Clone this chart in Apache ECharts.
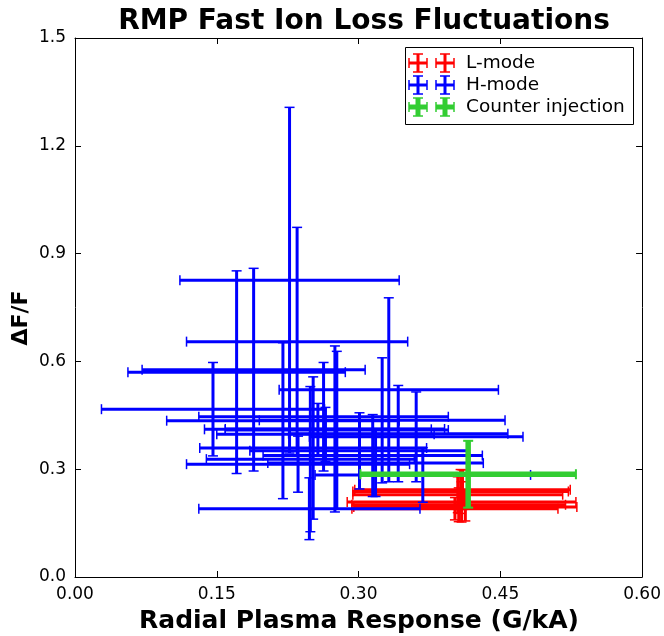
<!DOCTYPE html>
<html><head><meta charset="utf-8">
<script src="https://cdn.jsdelivr.net/npm/echarts@6/dist/echarts.min.js"></script>
<style>html,body{margin:0;padding:0;background:#fff}#c{width:664px;height:636px}</style>
</head><body><div id="c"></div>
<script>
// Axis ticks
const xTicks = [0.00, 0.15, 0.30, 0.45, 0.60];
const yTicks = [0.0, 0.3, 0.6, 0.9, 1.2, 1.5];

// L-mode (red)
const lX    = [0.408, 0.405, 0.410, 0.409, 0.406, 0.413, 0.402];
const lY    = [0.238, 0.229, 0.243, 0.209, 0.201, 0.195, 0.190];
const lXErr = [0.114, 0.111, 0.114, 0.121, 0.113, 0.118, 0.109];
const lYErr = [0.061, 0.050, 0.055, 0.056, 0.047, 0.039, 0.031];

// H-mode (blue)
const hX    = [0.227, 0.235, 0.171, 0.189, 0.332, 0.146, 0.220, 0.275, 0.277, 0.263, 0.325, 0.361, 0.265, 0.257, 0.315, 0.318, 0.368, 0.248, 0.252, 0.236, 0.249, 0.301, 0.342];
const hY    = [0.826, 0.655, 0.570, 0.577, 0.521, 0.467, 0.435, 0.412, 0.409, 0.446, 0.436, 0.390, 0.397, 0.411, 0.338, 0.317, 0.284, 0.190, 0.359, 0.314, 0.328, 0.351, 0.399];
const hXErr = [0.116, 0.117, 0.115, 0.118, 0.116, 0.118, 0.123, 0.116, 0.118, 0.132, 0.130, 0.113, 0.115, 0.120, 0.116, 0.114, 0.114, 0.117, 0.120, 0.118, 0.110, 0.116, 0.116];
const hYErr = [0.481, 0.318, 0.282, 0.282, 0.256, 0.130, 0.217, 0.231, 0.219, 0.151, 0.174, 0.125, 0.075, 0.072, 0.114, 0.093, 0.076, 0.086, 0.198, 0.078, 0.202, 0.106, 0.134];

// Counter injection (green)
const cX    = [0.416];
const cY    = [0.286];
const cXErr = [0.114];
const cYErr = [0.093];

const FONT = 'DejaVu Sans';
const chart = echarts.init(document.getElementById('c'), null, {renderer: 'canvas'});

function rows(xs, ys, xe, ye) { return xs.map((v, i) => [v, ys[i], xe[i], ye[i]]); }

function makeRender(color, lw, capW, capLw) {
  return function (params, api) {
    const x = api.value(0), y = api.value(1), xe = api.value(2), ye = api.value(3);
    const l = api.coord([x - xe, y]), r = api.coord([x + xe, y]);
    const t = api.coord([x, y + ye]), b = api.coord([x, y - ye]);
    const st = {stroke: color, lineWidth: lw};
    const cs = {stroke: color, lineWidth: capLw};
    const h = capW / 2;
    return {type: 'group', children: [
      {type: 'line', shape: {x1: l[0], y1: l[1], x2: r[0], y2: r[1]}, style: st},
      {type: 'line', shape: {x1: t[0], y1: t[1], x2: b[0], y2: b[1]}, style: st},
      {type: 'line', shape: {x1: l[0], y1: l[1] - h, x2: l[0], y2: l[1] + h}, style: cs},
      {type: 'line', shape: {x1: r[0], y1: r[1] - h, x2: r[0], y2: r[1] + h}, style: cs},
      {type: 'line', shape: {x1: t[0] - h, y1: t[1], x2: t[0] + h, y2: t[1]}, style: cs},
      {type: 'line', shape: {x1: b[0] - h, y1: b[1], x2: b[0] + h, y2: b[1]}, style: cs}
    ]};
  };
}

const axisCommon = {
  axisLine: {show: true, onZero: false, lineStyle: {color: '#000', width: 1}},
  axisTick: {show: true, inside: true, length: 6, lineStyle: {color: '#000', width: 1}},
  splitLine: {show: false}
};

function legendCross(cx, cy, color, lw) {
  return [
    {type: 'line', shape: {x1: cx - 9, y1: cy, x2: cx + 9, y2: cy}, style: {stroke: color, lineWidth: lw}},
    {type: 'line', shape: {x1: cx, y1: cy - 9, x2: cx, y2: cy + 9}, style: {stroke: color, lineWidth: lw}},
    {type: 'line', shape: {x1: cx - 9, y1: cy - 5, x2: cx - 9, y2: cy + 5}, style: {stroke: color, lineWidth: 1.5}},
    {type: 'line', shape: {x1: cx + 9, y1: cy - 5, x2: cx + 9, y2: cy + 5}, style: {stroke: color, lineWidth: 1.5}},
    {type: 'line', shape: {x1: cx - 5, y1: cy - 9, x2: cx + 5, y2: cy - 9}, style: {stroke: color, lineWidth: 1.5}},
    {type: 'line', shape: {x1: cx - 5, y1: cy + 9, x2: cx + 5, y2: cy + 9}, style: {stroke: color, lineWidth: 1.5}}
  ];
}

const legendItems = [
  {name: 'L-mode', color: '#ff0000', lw: 3, y: 63},
  {name: 'H-mode', color: '#0000ff', lw: 3, y: 85},
  {name: 'Counter injection', color: '#32cd32', lw: 5, y: 107}
];
const graphics = [
  {type: 'rect', shape: {x: 405.5, y: 47.5, width: 228, height: 77}, style: {fill: '#fff', stroke: '#000', lineWidth: 1}, z: 10},
  {type: 'text', x: 359, y: 621, style: {text: 'Radial Plasma Response (G/kA)', font: 'bold 25px ' + FONT, fill: '#000', textAlign: 'center', textVerticalAlign: 'middle'}},
  {type: 'text', x: 21, y: 318, rotation: Math.PI / 2, style: {text: 'ΔF/F', font: 'bold 22px ' + FONT, fill: '#000', textAlign: 'center', textVerticalAlign: 'middle'}}
];
legendItems.forEach(it => {
  legendCross(418, it.y, it.color, it.lw).concat(legendCross(445, it.y, it.color, it.lw)).forEach(g => { g.z = 11; graphics.push(g); });
  graphics.push({type: 'text', x: 466, y: it.y, z: 11, style: {text: it.name, font: '18.5px ' + FONT, fill: '#000', textAlign: 'left', textVerticalAlign: 'middle'}});
});

chart.setOption({
  animation: false,
  backgroundColor: '#fff',
  title: {text: 'RMP Fast Ion Loss Fluctuations', left: 359, top: 3, textAlign: 'center',
    textStyle: {fontFamily: FONT, fontWeight: 'bold', fontSize: 28, color: '#000'}},
  grid: {left: 75, right: 21, top: 38, bottom: 59},
  xAxis: [
    Object.assign({type: 'value', position: 'bottom', min: xTicks[0], max: xTicks[xTicks.length - 1], interval: 0.15,
      axisLabel: {show: true, margin: 9, fontFamily: FONT, fontSize: 17, color: '#000', formatter: v => v.toFixed(2)}}, axisCommon),
    Object.assign({type: 'value', position: 'top', min: xTicks[0], max: xTicks[xTicks.length - 1], interval: 0.15,
      axisLabel: {show: false}}, axisCommon)
  ],
  yAxis: [
    Object.assign({type: 'value', position: 'left', min: yTicks[0], max: yTicks[yTicks.length - 1], interval: 0.3,
      axisLabel: {show: true, margin: 9, fontFamily: FONT, fontSize: 17, color: '#000', formatter: v => v.toFixed(1)}}, axisCommon),
    Object.assign({type: 'value', position: 'right', min: yTicks[0], max: yTicks[yTicks.length - 1], interval: 0.3,
      axisLabel: {show: false}}, axisCommon)
  ],
  series: [
    {name: 'L-mode', type: 'custom', renderItem: makeRender('#ff0000', 3, 10, 1.5), data: rows(lX, lY, lXErr, lYErr), encode: {x: 0, y: 1}, z: 2},
    {name: 'H-mode', type: 'custom', renderItem: makeRender('#0000ff', 3, 10, 1.5), data: rows(hX, hY, hXErr, hYErr), encode: {x: 0, y: 1}, z: 3},
    {name: 'Counter injection', type: 'custom', renderItem: makeRender('#32cd32', 5.5, 10, 2), data: rows(cX, cY, cXErr, cYErr), encode: {x: 0, y: 1}, z: 4}
  ],
  graphic: graphics
});
</script>
</body></html>
